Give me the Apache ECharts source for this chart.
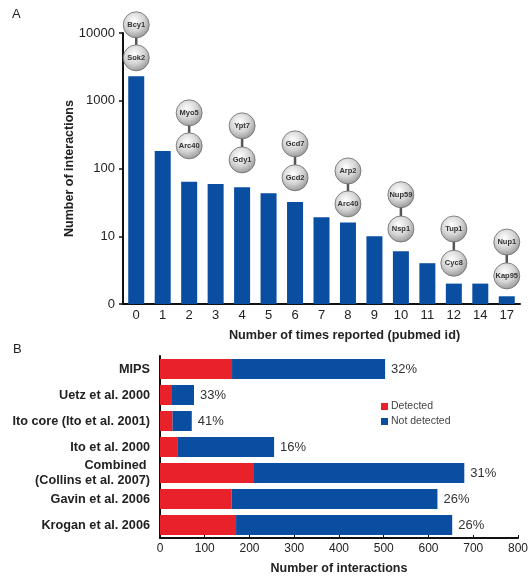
<!DOCTYPE html>
<html>
<head>
<meta charset="utf-8">
<script src="https://cdn.jsdelivr.net/npm/echarts@6/dist/echarts.min.js"></script>
<style>
  html, body { margin: 0; padding: 0; background: #fff; }
  #chart { width: 531px; height: 585px; }
</style>
</head>
<body>
<div id="chart"></div>
<script>
// panel A
const timesReported = ['0', '1', '2', '3', '4', '5', '6', '7', '8', '9', '10', '11', '12', '14', '17'];
const interactionCounts = [2300, 182, 64, 59, 53, 43, 32, 19, 16, 10, 6, 4, 2, 2, 1.3];

// example protein pairs drawn over some bars
const pairCats = ['0', '2', '4', '6', '8', '10', '12', '17'];
const pairTopNames = ['Bcy1', 'Myo5', 'Ypt7', 'Gcd7', 'Arp2', 'Nup59', 'Tup1', 'Nup1'];
const pairBottomNames = ['Sok2', 'Arc40', 'Gdy1', 'Gcd2', 'Arc40', 'Nsp1', 'Cyc8', 'Kap95'];
const pairTopY = [13200, 663, 426, 231, 92, 41, 12.8, 8.2];
const pairBottomY = [4300, 216, 134, 73, 30, 12.8, 4, 2.6];

// panel B
const studies = ['MIPS', 'Uetz et al. 2000', 'Ito core (Ito et al. 2001)', 'Ito et al. 2000',
                 'Combined \n(Collins et al. 2007)', 'Gavin et al. 2006', 'Krogan et al. 2006'];
const detected = [161, 25, 28, 40, 210, 160, 170];
const notDetected = [342, 51, 43, 215, 470, 460, 483];
const pctLabels = ['32%', '33%', '41%', '16%', '31%', '26%', '26%'];

const RED = '#e8212b';
const BLUE = '#0a4ea2';
const FONT = 'Liberation Sans, Arial, sans-serif';

const chart = echarts.init(document.getElementById('chart'));

const pairData = pairCats.map((c, i) => [timesReported.indexOf(c), pairTopY[i], pairBottomY[i], pairTopNames[i], pairBottomNames[i]]);

function ball(pt, name) {
    return [
        {
            type: 'circle',
            shape: { cx: pt[0], cy: pt[1], r: 13 },
            style: {
                fill: new echarts.graphic.RadialGradient(0.42, 0.35, 0.75, [
                    { offset: 0, color: '#ffffff' },
                    { offset: 0.5, color: '#d4d4d4' },
                    { offset: 1, color: '#858585' }
                ]),
                stroke: '#6a6a6a',
                lineWidth: 0.8
            }
        },
        {
            type: 'text',
            style: {
                text: name, x: pt[0], y: pt[1], align: 'center', verticalAlign: 'middle',
                fontSize: 7.5, fontWeight: 'bold', fontFamily: FONT, fill: '#333'
            }
        }
    ];
}

const option = {
    backgroundColor: '#fff',
    textStyle: { fontFamily: FONT },
    title: [
        { text: 'A', left: 7, top: 3, textStyle: { fontSize: 13, fontWeight: 'normal', color: '#222', fontFamily: FONT } },
        { text: 'B', left: 8, top: 338, textStyle: { fontSize: 13, fontWeight: 'normal', color: '#222', fontFamily: FONT } }
    ],
    legend: {
        data: ['Detected', 'Not detected'],
        orient: 'vertical',
        left: 376, top: 396,
        icon: 'rect', itemWidth: 7, itemHeight: 7, itemGap: 4,
        textStyle: { fontSize: 10.5, color: '#444', fontFamily: FONT, padding: [0, 0, 0, -2] }
    },
    grid: [
        { left: 123, top: 33, width: 397, height: 271 },
        { left: 160, top: 356, width: 363, height: 182 }
    ],
    xAxis: [
        {
            gridIndex: 0, type: 'category', data: timesReported,
            axisLine: { lineStyle: { color: '#111', width: 2 } },
            axisTick: { show: false },
            axisLabel: { fontSize: 13, color: '#222', margin: 5 },
            name: 'Number of times reported (pubmed id)', nameLocation: 'middle', nameGap: 25,
            nameTextStyle: { fontSize: 12.7, fontWeight: 'bold', color: '#222', padding: [0, 0, 0, 46] }
        },
        {
            gridIndex: 1, type: 'value', min: 0, max: 800, interval: 100,
            axisLine: { show: true, lineStyle: { color: '#111', width: 2 } },
            axisTick: { show: true, inside: true, length: 3, lineStyle: { color: '#111' } },
            splitLine: { show: false },
            axisLabel: { fontSize: 12, color: '#222', margin: 5 },
            name: 'Number of interactions', nameLocation: 'middle', nameGap: 24,
            nameTextStyle: { fontSize: 12.5, fontWeight: 'bold', color: '#222' }
        }
    ],
    yAxis: [
        {
            gridIndex: 0, type: 'log', logBase: 10, min: 1, max: 10000,
            axisLine: { show: true, lineStyle: { color: '#111', width: 2 } },
            axisTick: { show: true, length: 4, lineStyle: { color: '#111', width: 1.5 } },
            splitLine: { show: false },
            axisLabel: { fontSize: 13, color: '#222', margin: 8, formatter: v => (v === 1 ? '0' : String(v)) },
            name: 'Number of interactions', nameLocation: 'middle', nameGap: 47, nameMoveOverlap: false,
            nameTextStyle: { fontSize: 12.5, fontWeight: 'bold', color: '#222' }
        },
        {
            gridIndex: 1, type: 'category', data: studies, inverse: true,
            axisLine: { lineStyle: { color: '#111', width: 2 } },
            axisTick: { show: false },
            axisLabel: { fontSize: 12.7, fontWeight: 'bold', color: '#222', margin: 10, lineHeight: 15 }
        }
    ],
    series: [
        {
            type: 'bar', xAxisIndex: 0, yAxisIndex: 0,
            data: interactionCounts, barWidth: 16,
            itemStyle: { color: BLUE }
        },
        {
            type: 'custom', xAxisIndex: 0, yAxisIndex: 0, clip: false, z: 5,
            data: pairData,
            encode: { x: 0, y: [1, 2] },
            renderItem: function (params, api) {
                const top = api.coord([api.value(0), api.value(1)]);
                const bot = api.coord([api.value(0), api.value(2)]);
                const d = pairData[params.dataIndex];
                return {
                    type: 'group',
                    children: [
                        { type: 'line', shape: { x1: top[0], y1: top[1], x2: bot[0], y2: bot[1] },
                          style: { stroke: '#555', lineWidth: 2.5 } }
                    ].concat(ball(top, d[3]), ball(bot, d[4]))
                };
            }
        },
        {
            name: 'Detected', type: 'bar', xAxisIndex: 1, yAxisIndex: 1, stack: 'b',
            data: detected, barWidth: 20,
            itemStyle: { color: RED }
        },
        {
            name: 'Not detected', type: 'bar', xAxisIndex: 1, yAxisIndex: 1, stack: 'b',
            data: notDetected, barWidth: 20,
            itemStyle: { color: BLUE },
            label: {
                show: true, position: 'right', distance: 6,
                fontSize: 13, color: '#333',
                formatter: p => pctLabels[p.dataIndex]
            }
        }
    ]
};

chart.setOption(option);
</script>
</body>
</html>
